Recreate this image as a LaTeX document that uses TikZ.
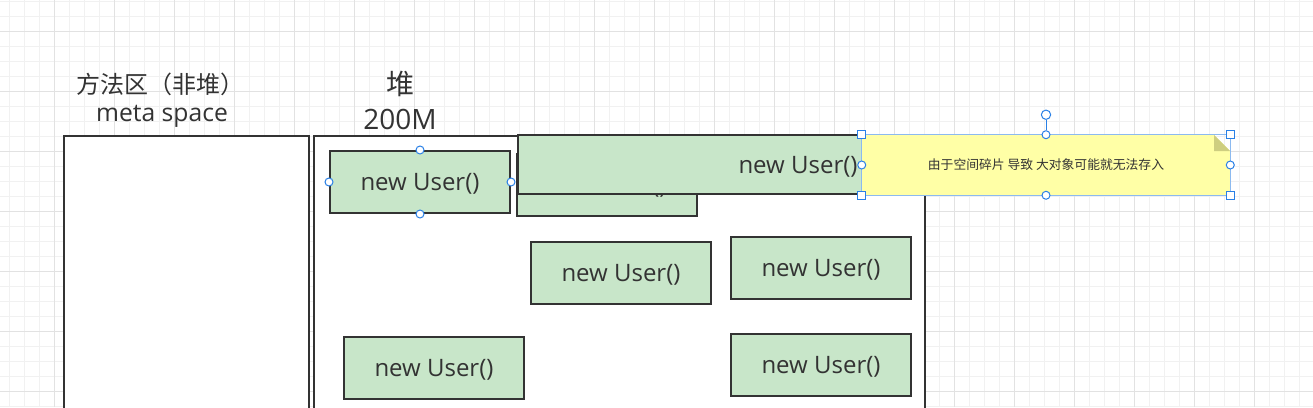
\documentclass[tikz,border=0pt]{standalone}
\usepackage{fontspec}
\setmainfont{Open Sans}
\newfontfamily\cjk{Noto Sans CJK SC}
\usepackage{tikz}
\usetikzlibrary{calc}
\usetikzlibrary{positioning}
\definecolor{gridminor}{RGB}{241,241,241}
\definecolor{gridmajor}{RGB}{226,226,226}
\definecolor{boxline}{RGB}{51,51,51}
\definecolor{textgray}{RGB}{51,51,51}
\definecolor{usergreen}{RGB}{200,230,201}
\definecolor{noteyellow}{RGB}{255,255,166}
\definecolor{notefold}{RGB}{206,206,128}
\definecolor{handleblue}{RGB}{41,128,230}
\definecolor{selblue}{RGB}{140,186,240}
\tikzset{
    areabox/.style={
        draw=boxline,
        line width=1.5pt,
        fill=white,
        inner sep=0pt,
        anchor=north west
    },
    % green object boxes
    userbox/.style={
        draw=boxline,
        line width=1.5pt,
        fill=usergreen,
        text=textgray,
        inner sep=0pt,
        text depth=0pt,
        minimum width=135pt,
        minimum height=46.5pt,
        font=\fontsize{18}{20}\selectfont
    },
    lbl/.style={
        text=textgray,
        inner sep=0pt
    },
    notetext/.style={
        text=textgray,
        inner sep=0pt,
        minimum width=276pt,
        minimum height=45pt,
        font=\fontsize{9.6}{11}\selectfont\cjk
    },
    handledot/.style={
        circle,
        draw=handleblue,
        fill=white,
        line width=0.75pt,
        minimum size=6pt,
        inner sep=0pt
    },
    handlesq/.style={
        rectangle,
        draw=handleblue,
        fill=white,
        line width=0.75pt,
        minimum size=6pt,
        inner sep=0pt
    }
}
\begin{document}
\begin{tikzpicture}[x=0.75pt,y=-0.75pt]
    \useasboundingbox (0,0) rectangle (1313,407);
    \clip (0,0) rectangle (1313,407);
    \fill[white] (0,0) rectangle (1313,407);

    % grid
    \foreach \gx in {9,24,...,1313} \draw[gridminor,line width=0.75pt] (\gx,0) -- (\gx,407);
    \foreach \gy in {1,16,...,407} \draw[gridminor,line width=0.75pt] (0,\gy) -- (1313,\gy);
    \foreach \gx in {54,114,...,1313} \draw[gridmajor,line width=0.75pt] (\gx,0) -- (\gx,407);
    \foreach \gy in {31,91,...,407} \draw[gridmajor,line width=0.75pt] (0,\gy) -- (1313,\gy);

    % memory areas
    \node[areabox, minimum width=183.75pt, minimum height=217.5pt] (method) at (63,135) {};
    \node[areabox, minimum width=458.25pt, minimum height=217.5pt] (heap) at (313,135) {};

    \node[lbl, font=\fontsize{18}{20}\selectfont\cjk] (methodlbl) at (160,84) {方法区（非堆）};
    \node[lbl, font=\fontsize{18.5}{20}\selectfont] (metalbl) at (162,116) {meta space};
    \node[lbl, font=\fontsize{21}{23}\selectfont\cjk] (heaplbl) at (400,84) {堆};
    \node[lbl, font=\fontsize{21}{23}\selectfont] (sizelbl) at (400,119) {200M};

    % objects
    \node[userbox] (user1) at (420,182) {new User()};
    \node[userbox] (user2) at (607,185) {new User()};
    \node[userbox] (user4) at (621,273) {new User()};
    \node[userbox] (user5) at (821,268) {new User()};
    \node[userbox] (user6) at (434,367.5) {new User()};
    \node[userbox] (user7) at (821,365) {new User()};
    \node[userbox, minimum width=420pt, minimum height=44.25pt] (bigobj) at (798,164.5) {new User()};

    % note
    \fill[noteyellow] (862,135) -- (1214,135) -- (1230,151) -- (1230,195) -- (862,195) -- cycle;
    \fill[notefold] (1214,135) -- (1214,151) -- (1230,151) -- cycle;
    \node[notetext] (note) at (1046,165) {由于空间碎片 导致 大对象可能就无法存入};
    \draw[selblue, line width=0.75pt] (note.north west) rectangle (note.south east);

    % selection handles
    \foreach \side in {north,south,east,west}
        \node[handledot] (u1\side) at (user1.\side) {};
    \foreach \side in {north,south,east,west}
        \node[handledot] (n\side) at (note.\side) {};
    \foreach \corner/\cname in {north west/nw,north east/ne,south west/sw,south east/se}
        \node[handlesq] (n\cname) at (note.\corner) {};
    \node[handledot, minimum size=7pt] (noterot) at ($(note.north)+(0,-20)$) {};
    \draw[handleblue, line width=0.75pt] (noterot) -- (nnorth);
\end{tikzpicture}
\end{document}
